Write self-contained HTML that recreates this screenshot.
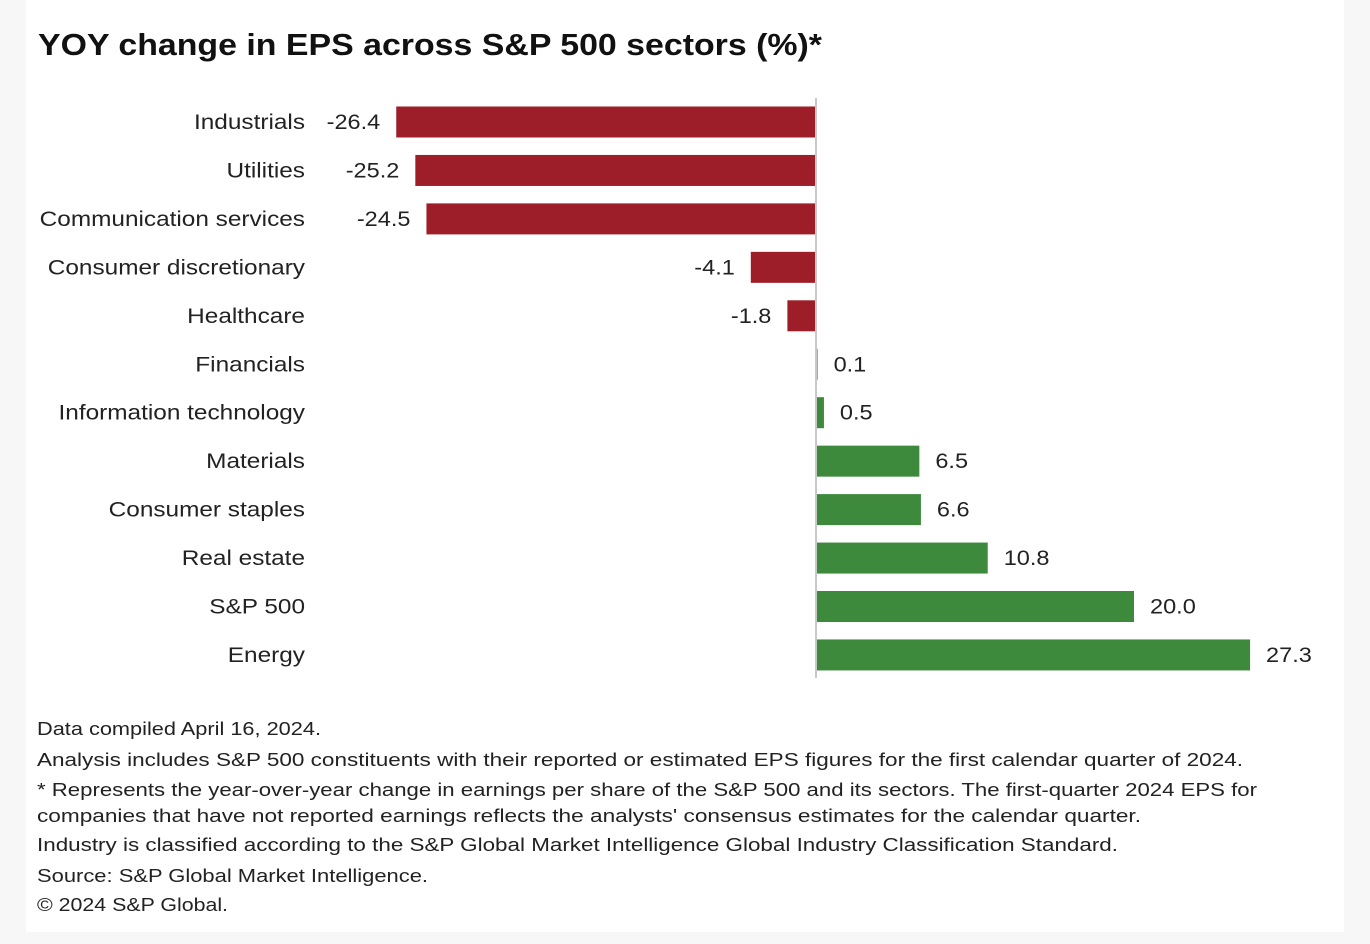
<!DOCTYPE html>
<html><head><meta charset="utf-8"><style>
body{margin:0;background:#f7f7f7;font-family:"Liberation Sans",sans-serif;}
#wrap{position:absolute;left:26px;top:0;width:1318px;height:932px;background:#fff;}
</style></head><body>
<div id="wrap"></div>
<svg id="chart" width="1370" height="944" style="position:absolute;left:0;top:0">
<text x="38" y="55" font-size="31" font-weight="bold" fill="#111" textLength="784" lengthAdjust="spacingAndGlyphs">YOY change in EPS across S&amp;P 500 sectors (%)*</text>
<g id="bars"></g>
<g font-size="18.5" fill="#222">
<text x="37" y="735" textLength="284" lengthAdjust="spacingAndGlyphs">Data compiled April 16, 2024.</text>
<text x="37" y="766" textLength="1206" lengthAdjust="spacingAndGlyphs">Analysis includes S&amp;P 500 constituents with their reported or estimated EPS figures for the first calendar quarter of 2024.</text>
<text x="37" y="796" textLength="1220" lengthAdjust="spacingAndGlyphs">* Represents the year-over-year change in earnings per share of the S&amp;P 500 and its sectors. The first-quarter 2024 EPS for</text>
<text x="37" y="822" textLength="1104" lengthAdjust="spacingAndGlyphs">companies that have not reported earnings reflects the analysts' consensus estimates for the calendar quarter.</text>
<text x="37" y="851" textLength="1081" lengthAdjust="spacingAndGlyphs">Industry is classified according to the S&amp;P Global Market Intelligence Global Industry Classification Standard.</text>
<text x="37" y="882" textLength="391" lengthAdjust="spacingAndGlyphs">Source: S&amp;P Global Market Intelligence.</text>
<text x="37" y="911" textLength="191" lengthAdjust="spacingAndGlyphs">© 2024 S&amp;P Global.</text>
</g>
</svg>
<script>
const categories=["Industrials","Utilities","Communication services","Consumer discretionary","Healthcare","Financials","Information technology","Materials","Consumer staples","Real estate","S&P 500","Energy"];
const values=[-26.4,-25.2,-24.5,-4.1,-1.8,0.1,0.5,6.5,6.6,10.8,20.0,27.3];
const labels=["-26.4","-25.2","-24.5","-4.1","-1.8","0.1","0.5","6.5","6.6","10.8","20.0","27.3"];
const NS="http://www.w3.org/2000/svg";
const x0=816,scale=15.9;
function xs(v){return x0+v*scale;}
function yc(i){return 122+i*48.45;}
const g=document.getElementById('bars');
function mk(t,a){const e=document.createElementNS(NS,t);for(const k in a)e.setAttribute(k,a[k]);g.appendChild(e);return e;}
function widen(e,f){const w=e.getComputedTextLength();e.setAttribute('textLength',(w*f).toFixed(1));e.setAttribute('lengthAdjust','spacingAndGlyphs');}
categories.forEach((c,i)=>{
  const v=values[i],y=yc(i);
  const r=mk('rect',{x:Math.min(xs(v),x0),y:y-15.5,width:Math.max(Math.abs(xs(v)-x0),1.5),height:31,fill:v<0?'#9d1e29':'#3d8a3d'});
  
  
  const t=mk('text',{x:305,y:y+7,'font-size':21,'text-anchor':'end',fill:'#222'});
  t.textContent=c;
  
  
  widen(t,1.16);
  const vl=mk('text',{x:v<0?xs(v)-16:xs(v)+16,y:y+7,'font-size':21,'text-anchor':v<0?'end':'start',fill:'#222'});
  vl.textContent=labels[i];
  
  
  widen(vl,1.12);
});
const ax=mk('line',{x1:x0,x2:x0,y1:98,y2:678,stroke:'#c8c8c8','stroke-width':2});


</script>
</body></html>
